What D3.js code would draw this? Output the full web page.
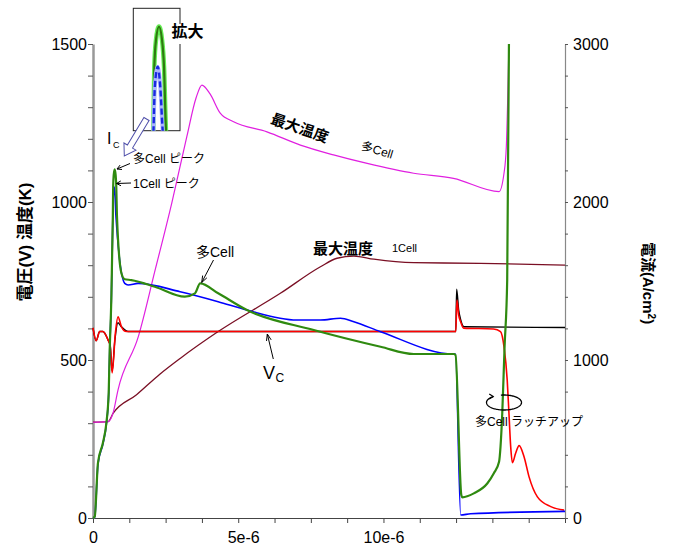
<!DOCTYPE html>
<html>
<head>
<meta charset="utf-8">
<script src="https://cdn.jsdelivr.net/npm/d3@7"></script>
<style>
  body { margin: 0; background: #fff; }
  svg { display: block; }
  text { font-family: "Liberation Sans", Arial, "Noto Sans CJK JP", sans-serif; }
  .jp { font-family: "Liberation Sans", "Noto Sans CJK JP", sans-serif; }
</style>
</head>
<body>
<svg id="chart" width="673" height="546"></svg>
<script>
// Time axis in microseconds; tick labels written in seconds notation
const xTickValues = [0, 1.25, 2.5, 3.75, 5, 6.25, 7.5, 8.75, 10, 11.25, 12.5, 13.75, 15, 16.25];
const xTickLabelAt = [0, 5, 10];
const xTickLabels = ["0", "5e-6", "10e-6"];
const leftTickLabels = [0, 500, 1000, 1500];
const rightTickLabels = [0, 1000, 2000, 3000];

// Multi-cell collector current density Ic (A/cm²)
const multiIcT = [0, 0.06, 0.17, 0.34, 0.46, 0.54, 0.575, 0.63, 0.683, 0.694, 0.713, 0.746, 0.780, 0.802, 0.824,
  0.976, 1.093, 1.32, 2.13, 3.16, 3.51, 3.69, 4.31, 5.30, 7.60, 9.90, 11.04, 12.42, 12.48,
  12.68, 12.72, 13.11, 13.58, 13.80, 13.98, 14.03, 14.09, 14.17, 14.26, 14.32];
const multiIcJ = [0, 8, 348, 475, 601, 791, 1063, 1380, 1916, 2095, 2170, 2207, 2170, 2095, 1916,
  1551, 1511, 1506, 1464, 1401, 1422, 1485, 1422, 1316, 1190, 1084, 1038, 1038, 1032,
  146, 131, 156, 220, 283, 356, 451, 663, 1084, 1506, 3000];

// Single-cell collector current density Ic (A/cm²)
const singleIcT = [0, 0.06, 0.17, 0.34, 0.46, 0.54, 0.575, 0.63, 0.683, 0.700, 0.732, 0.760, 0.788, 1.093, 1.21,
  1.55, 3.0, 4.31, 5.30, 7.02, 7.83, 8.52, 8.98, 9.90, 12.42, 12.48, 12.66, 13.0, 16.25];
const singleIcJ = [0, 7, 340, 468, 594, 783, 1055, 1370, 1900, 2040, 2095, 2040, 1916, 1485, 1475,
  1485, 1432, 1369, 1316, 1253, 1253, 1264, 1242, 1179, 1038, 1038, 19, 27, 42];

// Multi-cell collector voltage Vc (V)
const multiVcT = [0, 0.11, 0.23, 0.34, 0.52, 0.59, 0.66, 0.77, 0.86, 0.98, 1.15, 12.45, 12.49, 12.53, 12.59,
  12.66, 12.76, 13.79, 14.03, 14.15, 14.26, 14.32, 14.38, 14.44, 14.55, 14.67, 14.84, 15.01, 15.30, 15.76, 16.22];
const multiVcV = [602, 561, 590, 590, 563, 547, 459, 585, 637, 605, 590, 590, 590, 690, 642,
  620, 601, 598, 590, 542, 437, 332, 226, 175, 205, 229, 194, 131, 67, 36, 25];

// Single-cell collector voltage Vc (V)
const singleVcT = [0, 0.11, 0.23, 0.34, 0.52, 0.59, 0.66, 0.75, 0.86, 0.98, 1.21, 12.45, 12.49, 12.52, 12.59,
  12.66, 12.78, 16.25];
const singleVcV = [602, 561, 590, 590, 563, 547, 465, 560, 618, 605, 590, 590, 590, 724, 658,
  627, 605, 603];

// Maximum temperature, multi-cell (K)
const multiTempT = [0, 0.52, 0.69, 0.86, 1.56, 2.14, 2.71, 3.23, 3.55, 3.75, 4.03, 4.38, 4.84, 5.99, 7.14,
  8.28, 9.44, 11.04, 12.41, 13.98, 14.15, 14.23, 14.32];
const multiTempK = [303, 305, 332, 405, 574, 785, 996, 1207, 1330, 1370, 1342, 1281, 1254, 1222, 1180,
  1149, 1122, 1091, 1075, 1033, 1091, 1175, 1500];

// Maximum temperature, single cell (K)
const singleTempT = [0, 0.52, 0.69, 1.5, 2.3, 3.0, 4.31, 6.45, 7.83, 8.40, 8.98, 9.67, 11.04, 13.34, 16.25];
const singleTempK = [303, 305, 331, 390, 455, 505, 590, 711, 795, 822, 829, 819, 808, 806, 800];

const zip = (ts, vs) => ts.map((t, i) => ({ t, v: vs[i] }));

const svg = d3.select("#chart");

const x = d3.scaleLinear().domain([0, 16.25]).range([93, 565]);
const yL = d3.scaleLinear().domain([0, 1500]).range([518, 44]);
const yR = d3.scaleLinear().domain([0, 3000]).range([518, 44]);

// ---- axes ----
const gx = svg.append("g").attr("transform", "translate(0,518)")
  .call(d3.axisBottom(x).tickValues(xTickValues).tickSize(5).tickSizeOuter(0).tickPadding(9)
    .tickFormat(d => { const k = xTickLabelAt.indexOf(d); return k >= 0 ? xTickLabels[k] : ""; }));
gx.select(".domain").attr("stroke", "#444").attr("stroke-width", 1.2);
gx.selectAll(".tick line").attr("stroke", "#444");
gx.selectAll("text").attr("font-size", 16).attr("fill", "#000")
  .attr("dx", d => d === 5 ? 5 : 0);

const gl = svg.append("g").attr("transform", "translate(93,0)")
  .call(d3.axisLeft(yL).tickValues(d3.range(0, 1501, 100)).tickSize(5).tickSizeOuter(0).tickPadding(1)
    .tickFormat(d => leftTickLabels.includes(d) ? d : ""));
gl.select(".domain").attr("stroke", "#999").attr("stroke-width", 2.5);
gl.selectAll(".tick line").attr("stroke", "#555");
gl.selectAll("text").attr("font-size", 16).attr("fill", "#000");

const gr = svg.append("g").attr("transform", "translate(565,0)")
  .call(d3.axisRight(yR).tickValues(d3.range(0, 3001, 200)).tickSize(3).tickSizeOuter(0).tickPadding(5)
    .tickFormat(d => rightTickLabels.includes(d) ? d : ""));
gr.select(".domain").attr("stroke", "#888").attr("stroke-width", 1.2);
gr.selectAll(".tick line").attr("stroke", "#555");
gr.selectAll("text").attr("font-size", 16).attr("fill", "#000");

// axis titles
svg.append("text").attr("class", "jp")
  .attr("transform", "translate(31,242) rotate(-90)")
  .attr("text-anchor", "middle").attr("font-size", 17).attr("font-weight", "bold")
  .text("電圧(V)  温度(K)");

const rt = svg.append("text").attr("class", "jp")
  .attr("transform", "translate(643,283) rotate(90)")
  .attr("text-anchor", "middle").attr("font-size", 15).attr("font-weight", "bold");
rt.append("tspan").text("電流(A/cm");
rt.append("tspan").attr("font-size", 10).attr("dy", -5).text("2");
rt.append("tspan").attr("dy", 5).text(")");

// ---- series ----
const lineL = d3.line().x(d => x(d.t)).y(d => yL(d.v)).curve(d3.curveMonotoneX);
const lineR = d3.line().x(d => x(d.t)).y(d => yR(d.v)).curve(d3.curveMonotoneX);

const plot = svg.append("g").attr("fill", "none").attr("stroke-linejoin", "round");

plot.append("path").datum(zip(singleTempT, singleTempK)).attr("d", lineL)
  .attr("stroke", "#7a0f24").attr("stroke-width", 1.3);
plot.append("path").datum(zip(multiTempT, multiTempK)).attr("d", lineL)
  .attr("stroke", "#e020e0").attr("stroke-width", 1.2);
plot.append("path").datum(zip(singleVcT, singleVcV)).attr("d", lineL)
  .attr("stroke", "#000").attr("stroke-width", 1.4);
plot.append("path").datum(zip(multiVcT, multiVcV)).attr("d", lineL)
  .attr("stroke", "#ff0000").attr("stroke-width", 1.6);
plot.append("path").datum(zip(singleIcT, singleIcJ)).attr("d", lineR)
  .attr("stroke", "#0000ff").attr("stroke-width", 1.6);
plot.append("path").datum(zip(multiIcT, multiIcJ)).attr("d", lineR)
  .attr("stroke", "#2f8a10").attr("stroke-width", 2.2);

// ---- enlarged view of the current peaks ----
const box = { x: 133.3, y: 8.3, w: 46.7, h: 122.4 };
svg.append("rect").attr("x", box.x).attr("y", box.y).attr("width", box.w).attr("height", box.h)
  .attr("fill", "#fff").attr("stroke", "#222").attr("stroke-width", 1);
svg.append("clipPath").attr("id", "insetClip").append("rect")
  .attr("x", box.x).attr("y", box.y).attr("width", box.w).attr("height", box.h);
const xi = d3.scaleLinear().domain([0.46, 0.98]).range([box.x, box.x + box.w]);
const yi = d3.scaleLinear().domain([1916, 2258]).range([box.y + box.h, box.y]);
const lineI = d3.line().x(d => xi(d.t)).y(d => yi(d.v)).curve(d3.curveMonotoneX);
const inset = svg.append("g").attr("clip-path", "url(#insetClip)").attr("fill", "none");
inset.append("path").datum(zip(multiIcT, multiIcJ)).attr("d", lineI)
  .attr("stroke", "#66ee55").attr("stroke-width", 4.5);
inset.append("path").datum(zip(multiIcT, multiIcJ)).attr("d", lineI)
  .attr("stroke", "#2f7a10").attr("stroke-width", 2.2);
inset.append("path").datum(zip(singleIcT, singleIcJ)).attr("d", lineI)
  .attr("stroke", "#aab4ff").attr("stroke-width", 4);
inset.append("path").datum(zip(singleIcT, singleIcJ)).attr("d", lineI)
  .attr("stroke", "#1a2ae0").attr("stroke-width", 2.4).attr("stroke-dasharray", "6,3");

svg.append("rect").attr("x", 170).attr("y", 24).attr("width", 37).attr("height", 20).attr("fill", "#fff");
svg.append("text").attr("class", "jp").attr("x", 171.5).attr("y", 37).attr("font-size", 16)
  .attr("font-weight", "bold").text("拡大");

// ---- annotations ----
const ann = svg.append("g");

function arrow(x1, y1, x2, y2, head = 6, spread = 0.45, width = 1) {
  const a = Math.atan2(y2 - y1, x2 - x1);
  ann.append("line").attr("x1", x1).attr("y1", y1).attr("x2", x2).attr("y2", y2)
    .attr("stroke", "#000").attr("stroke-width", width);
  ann.append("path")
    .attr("d", `M${x2 - head * Math.cos(a - spread)},${y2 - head * Math.sin(a - spread)}L${x2},${y2}L${x2 - head * Math.cos(a + spread)},${y2 - head * Math.sin(a + spread)}`)
    .attr("fill", "none").attr("stroke", "#000").attr("stroke-width", width);
}

// hollow block arrow from the enlarged view down to the peak
(function () {
  const sx = 146.5, sy = 119, ex = 124.3, ey = 156;
  const L = Math.hypot(ex - sx, ey - sy), ang = Math.atan2(ey - sy, ex - sx) * 180 / Math.PI;
  const hw = 3, hh = 7, hl = 11;
  const pts = [[0, -hw], [L - hl, -hw], [L - hl, -hh], [L, 0], [L - hl, hh], [L - hl, hw], [0, hw]];
  ann.append("polygon").attr("points", pts.map(p => p.join(",")).join(" "))
    .attr("transform", `translate(${sx},${sy}) rotate(${ang})`)
    .attr("fill", "#fff").attr("stroke", "#5050aa").attr("stroke-width", 1);
})();

const ic = ann.append("text").attr("x", 107).attr("y", 144).attr("font-size", 16);
ic.append("tspan").text("I");
ic.append("tspan").attr("font-size", 9).attr("dy", 3.5).attr("dx", 1.5).text("C");

ann.append("text").attr("class", "jp").attr("x", 133).attr("y", 163).attr("font-size", 12).text("多Cell ピーク");
arrow(130, 163.5, 117, 169, 5, 0.5);
ann.append("text").attr("class", "jp").attr("x", 133).attr("y", 188).attr("font-size", 12).text("1Cell ピーク");
arrow(131, 183, 116.5, 183.5, 5, 0.5);

ann.append("text").attr("class", "jp").attr("x", 196).attr("y", 257).attr("font-size", 14).text("多Cell");
arrow(213.5, 260, 201.7, 282.5, 7, 0.35);

ann.append("text").attr("class", "jp").attr("x", 313).attr("y", 254).attr("font-size", 15)
  .attr("font-weight", "bold").text("最大温度");
ann.append("text").attr("x", 392).attr("y", 252).attr("font-size", 11).text("1Cell");

const vc = ann.append("text").attr("x", 263).attr("y", 378.5).attr("font-size", 18);
vc.append("tspan").text("V");
vc.append("tspan").attr("font-size", 12).attr("dy", 3.5).attr("dx", 0.5).text("C");
arrow(273.3, 359, 267.3, 334, 7, 0.35);

ann.append("text").attr("class", "jp").attr("transform", "translate(298,133) rotate(19)")
  .attr("text-anchor", "middle").attr("font-size", 15).attr("font-weight", "bold").text("最大温度");
ann.append("text").attr("class", "jp").attr("transform", "translate(376,154) rotate(17)")
  .attr("text-anchor", "middle").attr("font-size", 12).text("多Cell");

// rotation mark around the latch-up point
(function () {
  const cx = 504, cy = 402.5, rx = 17.5, ry = 7.5;
  const a0 = -1.75, a1 = -1.75 + 2 * Math.PI - 0.45;
  const pts = d3.range(a0, a1, 0.05).map(a => [cx + rx * Math.cos(a), cy + ry * Math.sin(a)]);
  ann.append("path").attr("d", d3.line()(pts)).attr("fill", "none").attr("stroke", "#000").attr("stroke-width", 1.3);
  const e = pts[pts.length - 1];
  ann.append("path").attr("d", `M${e[0] - 4},${e[1] - 2.5}L${e[0]},${e[1]}L${e[0] - 4},${e[1] + 2.5}`)
    .attr("fill", "none").attr("stroke", "#000").attr("stroke-width", 1.2);
})();
ann.append("text").attr("class", "jp").attr("x", 475).attr("y", 426).attr("font-size", 12).text("多Cell ラッチアップ");
</script>
</body>
</html>
